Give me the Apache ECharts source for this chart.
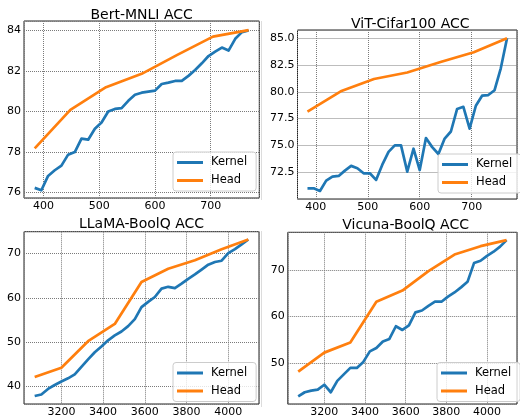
<!DOCTYPE html>
<html><head><meta charset="utf-8">
<script src="https://cdn.jsdelivr.net/npm/echarts@6/dist/echarts.min.js"></script>
<style>html,body{margin:0;padding:0;background:#fff}#c{width:520px;height:418px}</style>
</head><body><div id="c"></div>
<script>
// ---- data ----
const smallX = [384,396,408,420,432,444,456,468,480,492,504,516,528,540,552,564,576,588,600,612,624,636,648,660,672,684,696,708,720,732,744,756,768];
const smallHeadX = [384,448,512,576,640,704,768];
const bertKernel = [76.23,76.11,76.82,77.10,77.33,77.87,78.00,78.66,78.61,79.15,79.46,80.00,80.13,80.17,80.53,80.83,80.93,80.98,81.03,81.36,81.43,81.51,81.51,81.76,82.05,82.38,82.74,82.96,83.16,83.01,83.59,83.92,84.00];
const bertHead = [78.18,80.08,81.20,81.86,82.80,83.70,84.02];
const vitKernel = [71.00,71.00,70.75,71.71,72.09,72.15,72.65,73.09,72.87,72.40,72.40,71.78,73.20,74.40,75.00,75.00,72.56,74.69,72.70,75.69,74.84,74.20,75.64,76.30,78.40,78.60,76.56,78.70,79.64,79.70,80.15,82.20,85.00];
const vitHead = [78.16,80.05,81.20,81.80,82.78,83.70,85.00];
const largeX = [3072,3104,3136,3168,3200,3232,3264,3296,3328,3360,3392,3424,3456,3488,3520,3552,3584,3616,3648,3680,3712,3744,3776,3808,3840,3872,3904,3936,3968,4000,4032,4064,4096];
const largeHeadX = [3072,3200,3328,3456,3584,3712,3840,3968,4096];
const llamaKernel = [37.8,38.15,39.4,40.3,41.1,41.8,42.7,44.4,46.1,47.7,49.0,50.4,51.5,52.4,53.6,55.2,57.9,59.1,60.2,62.1,62.5,62.2,63.2,64.3,65.3,66.4,67.5,68.1,68.4,70.1,71.0,72.1,73.2];
const llamaHead = [42.1,44.2,50.2,54.1,63.6,66.6,68.5,71.0,73.2];
const vicunaKernel = [42.73,43.64,44.0,44.2,45.27,43.64,46.1,47.5,48.9,48.9,50.2,52.47,53.2,54.6,55.15,57.9,57.1,58.1,60.9,61.3,62.3,63.2,63.2,64.3,65.2,66.3,67.5,71.55,72.05,73.1,74.0,75.1,76.5];
const vicunaHead = [48.1,52.2,54.4,63.2,65.6,69.8,73.4,75.2,76.5];
const titles = ['Bert-MNLI ACC','ViT-Cifar100 ACC','LLaMA-BoolQ ACC','Vicuna-BoolQ ACC'];
const seriesNames = ['Kernel','Head'];
const smallXTicks = [400,500,600,700];
const largeXTicks = [3200,3400,3600,3800,4000];
const bertYTicks = [76,78,80,82,84];
const vitYTicks = [72.5,75.0,77.5,80.0,82.5,85.0];
const llamaYTicks = [40,50,60,70];
const vicunaYTicks = [50,60,70];

// ---- layout ----
const FONT = 'DejaVu Sans';
const BLUE = '#1f77b4', ORANGE = '#ff7f0e';
const panels = [
  {grid:{left:24,top:21,width:235.3,height:177}, xr:[364.8,787.2], yr:[75.73,84.47], xt:smallXTicks, yt:bertYTicks, dec:0,
   kx:smallX, ky:bertKernel, hx:smallHeadX, hy:bertHead, legend:{left:173,top:152}, title:{cx:141.6,top:8}},
  {grid:{left:297.5,top:30,width:225.7,height:169}, xr:[364.8,787.2], yr:[70,85.77], yint:2.5, xt:smallXTicks, yt:vitYTicks, dec:1,
   kx:smallX, ky:vitKernel, hx:smallHeadX, hy:vitHead, legend:{left:438,top:154}, title:{cx:410.3,top:17}},
  {grid:{left:24,top:231.7,width:235,height:175.3}, xr:[3020.8,4147.2], yr:[36,74.96], xt:largeXTicks, yt:llamaYTicks, dec:0,
   kx:largeX, ky:llamaKernel, hx:largeHeadX, hy:llamaHead, legend:{left:173,top:362.5}, title:{cx:141.5,top:217.5}},
  {grid:{left:287.8,top:232.3,width:235.7,height:174.7}, xr:[3020.8,4147.2], yr:[41.1,78.2], xt:largeXTicks, yt:vicunaYTicks, dec:0,
   kx:largeX, ky:vicunaKernel, hx:largeHeadX, hy:vicunaHead, legend:{left:437,top:362.5}, title:{cx:405.6,top:218.5}}
];

function tickFmt(list, dec){
  return function(v){
    for (const t of list) if (Math.abs(t - v) < 1e-6) return t.toFixed(dec);
    return '';
  };
}
const pairs = (xs, ys) => xs.map((x, i) => [x, ys[i]]);
const grid = [], xAxis = [], yAxis = [], series = [], legend = [], title = [];
const splitStyle = {show:true, lineStyle:{type:'dotted', color:'#7a7a7a', width:1}};
panels.forEach((p, i) => {
  grid.push(Object.assign({show:true, borderColor:'#222', borderWidth:1, backgroundColor:'transparent', containLabel:false}, p.grid));
  xAxis.push({type:'value', gridIndex:i, min:p.xr[0], max:p.xr[1], axisLine:{show:false}, axisTick:{show:false},
    splitLine:splitStyle,
    axisLabel:{margin:3, fontSize:11, color:'#000', fontFamily:FONT, formatter:tickFmt(p.xt,0)}});
  const ya = {type:'value', gridIndex:i, min:p.yr[0], max:p.yr[1], axisLine:{show:false}, axisTick:{show:false},
    splitLine:splitStyle,
    axisLabel:{margin:3, fontSize:11, color:'#000', fontFamily:FONT, formatter:tickFmt(p.yt,p.dec)}};
  if (p.yint) ya.interval = p.yint;
  yAxis.push(ya);
  series.push({name:seriesNames[0], type:'line', xAxisIndex:i, yAxisIndex:i, data:pairs(p.kx,p.ky), showSymbol:false, symbol:'none',
    lineStyle:{width:2.7, color:BLUE, join:'round'}, itemStyle:{color:BLUE}, z:3});
  series.push({name:seriesNames[1], type:'line', xAxisIndex:i, yAxisIndex:i, data:pairs(p.hx,p.hy), showSymbol:false, symbol:'none',
    lineStyle:{width:2.7, color:ORANGE, join:'round'}, itemStyle:{color:ORANGE}, z:4});
  legend.push({left:p.legend.left, top:p.legend.top, orient:'vertical', data:seriesNames, icon:'rect', itemWidth:26, itemHeight:3,
    itemGap:5, padding:[4,9,4,4], borderColor:'#cccccc', borderWidth:1, borderRadius:3, backgroundColor:'rgba(255,255,255,0.8)',
    selectedMode:false, z:10,
    textStyle:{fontFamily:FONT, fontSize:11.5, color:'#000', lineHeight:13, padding:[0,0,0,3]}});
  title.push({text:titles[i], left:p.title.cx, top:p.title.top, textAlign:'center', padding:0,
    textStyle:{fontFamily:FONT, fontSize:14, fontWeight:'normal', color:'#000'}});
});

const chart = echarts.init(document.getElementById('c'), null, {renderer:'canvas', width:520, height:418});
chart.setOption({
  animation:false,
  backgroundColor:'#fff',
  title, grid, xAxis, yAxis, series, legend,
  graphic:[
    {type:'line', shape:{x1:261.5,y1:21,x2:261.5,y2:200}, style:{stroke:'#dcdcdc', lineWidth:1}, silent:true},
    {type:'line', shape:{x1:261.5,y1:231,x2:261.5,y2:407}, style:{stroke:'#dcdcdc', lineWidth:1}, silent:true}
  ]
});
</script></body></html>
